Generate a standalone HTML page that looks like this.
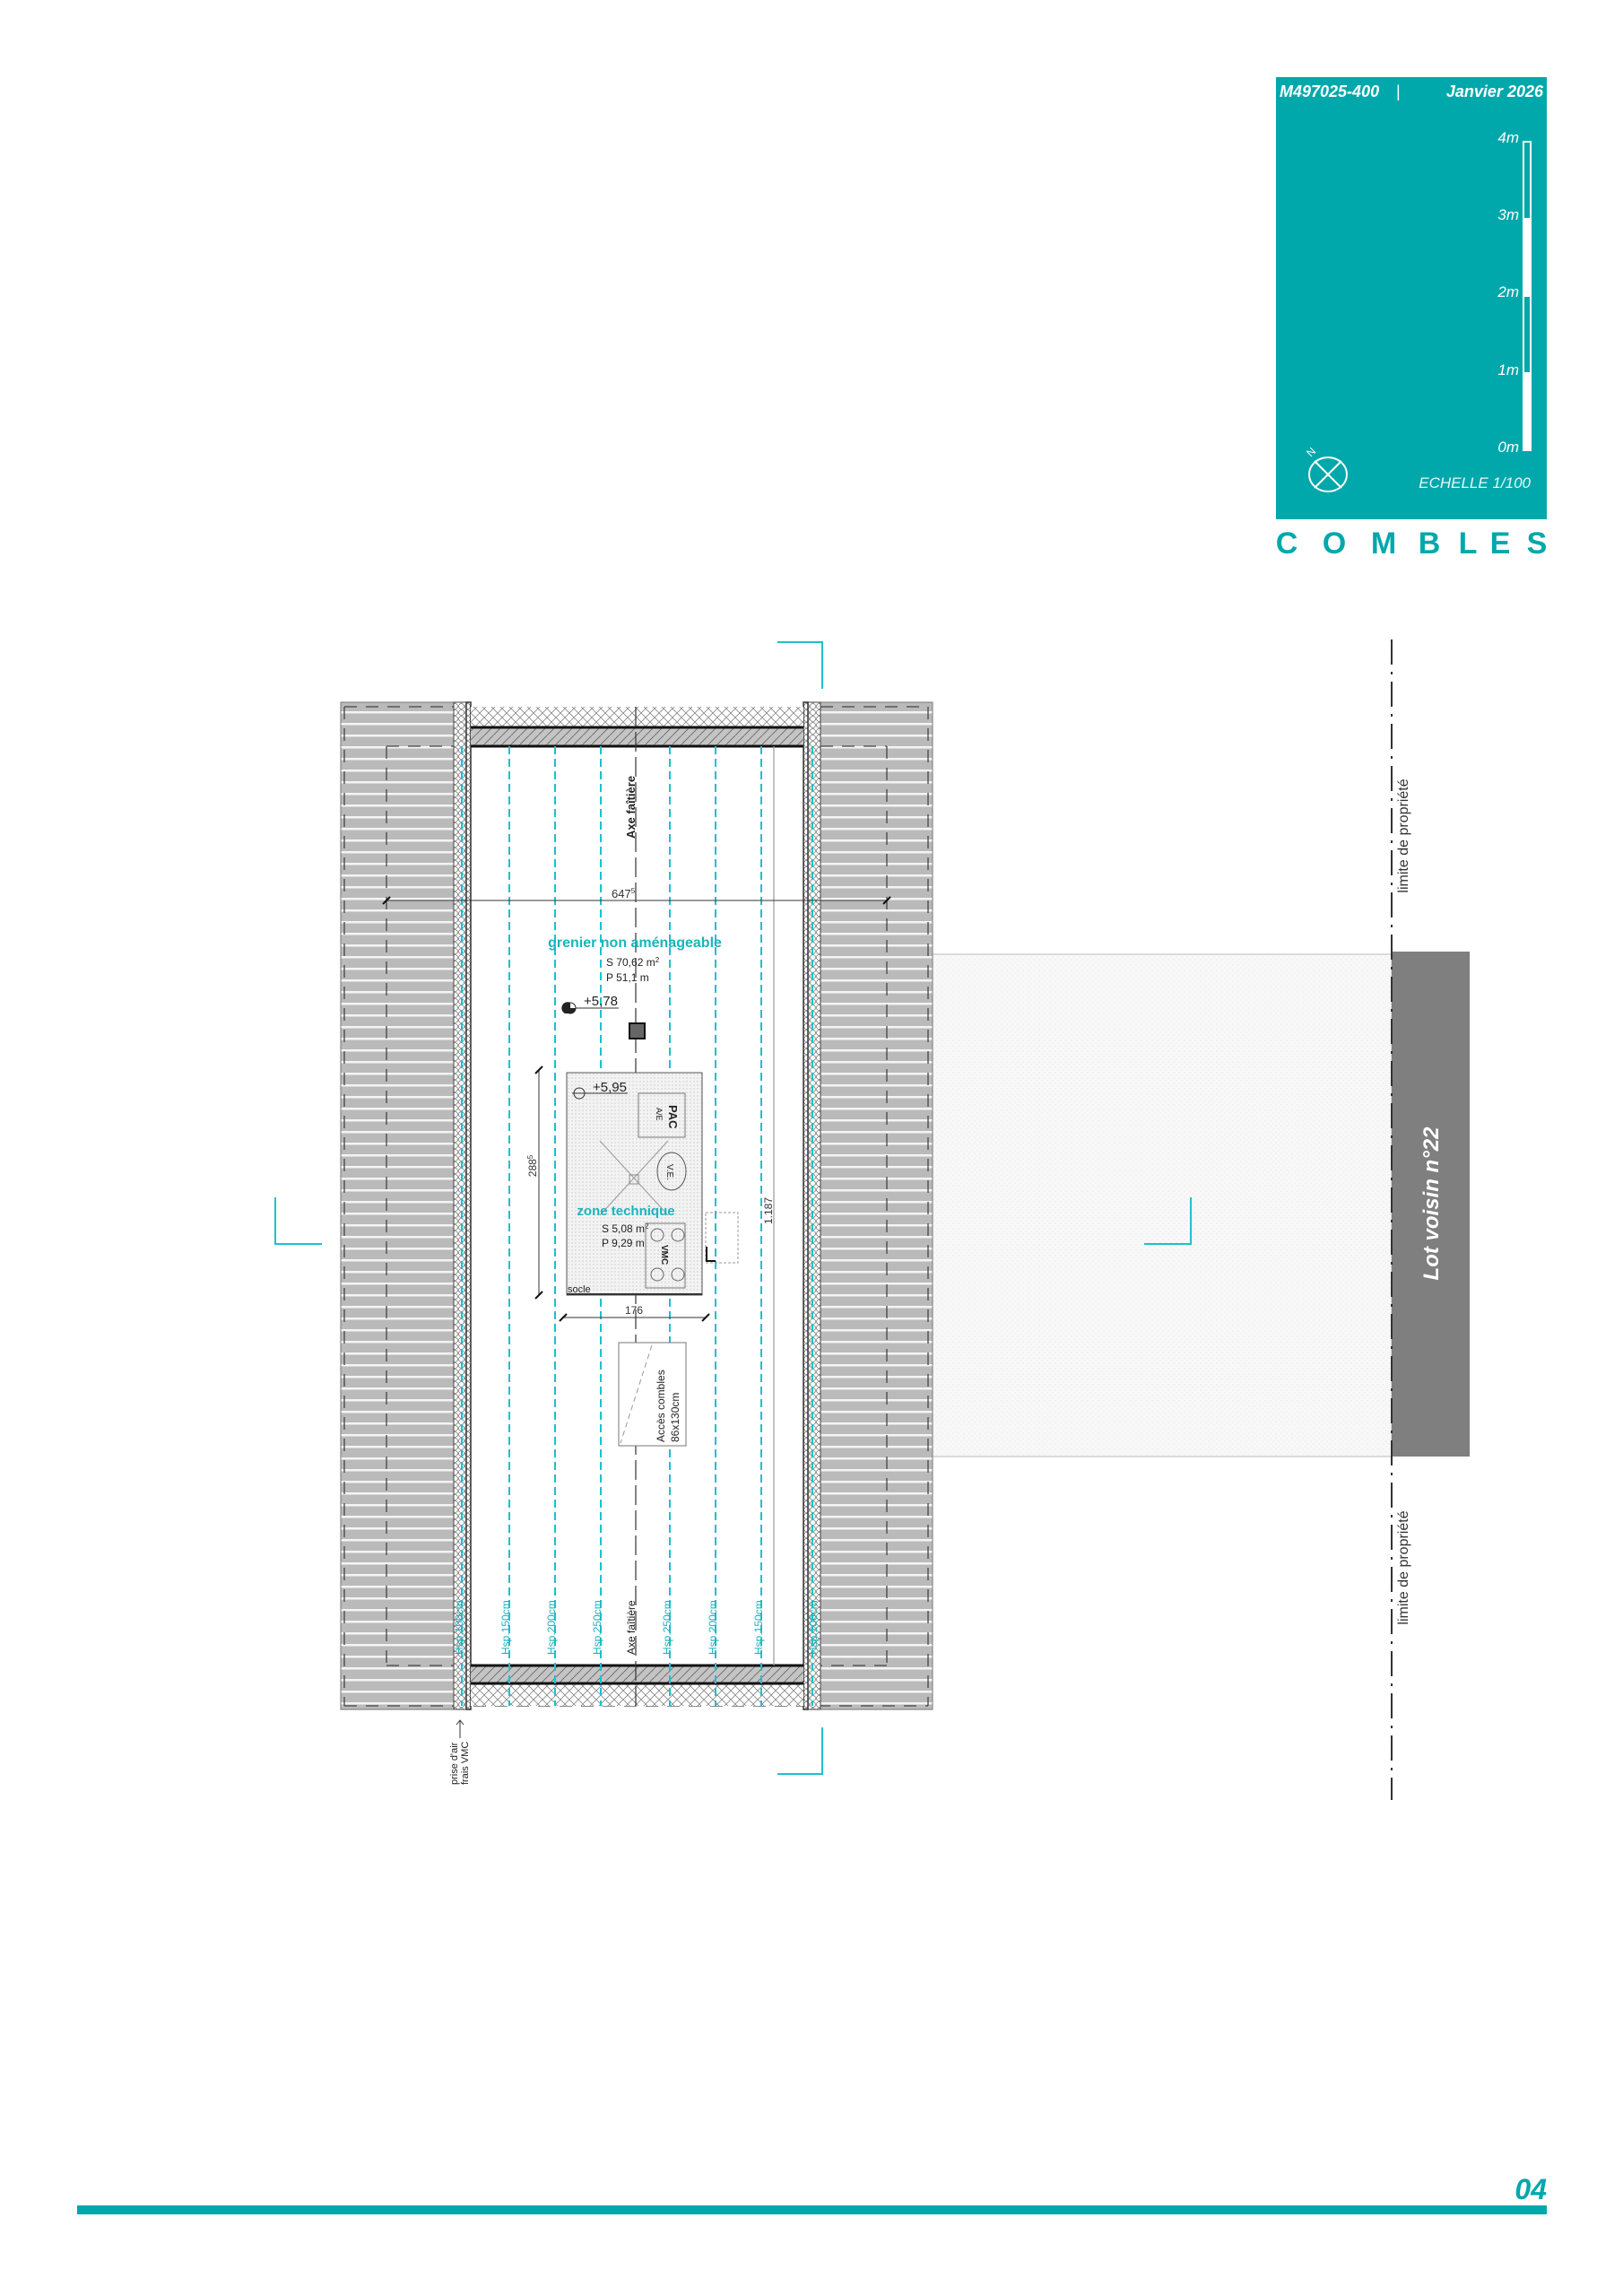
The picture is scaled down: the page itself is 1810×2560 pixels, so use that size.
<!DOCTYPE html>
<html><head><meta charset="utf-8"><style>
html,body{margin:0;padding:0;background:#fff;}
svg{display:block;}
text{font-family:"Liberation Sans",sans-serif;}
</style></head><body>
<svg width="1810" height="2560" viewBox="0 0 1810 2560" xmlns="http://www.w3.org/2000/svg">
<defs>
<pattern id="roof" x="0" y="783" width="20" height="13" patternUnits="userSpaceOnUse">
<rect width="20" height="13" fill="#bababa"/><rect y="10" width="20" height="2.5" fill="#f4f4f4"/>
</pattern>
<pattern id="ins" x="0" y="0" width="7" height="7" patternUnits="userSpaceOnUse">
<rect width="7" height="7" fill="#fff"/><circle cx="3.5" cy="3.5" r="3" fill="none" stroke="#777" stroke-width="0.8"/>
</pattern>
<pattern id="cross" width="10" height="10" patternUnits="userSpaceOnUse">
<rect width="10" height="10" fill="#fff"/><path d="M0 0L10 10M10 0L0 10" stroke="#888" stroke-width="0.8"/>
</pattern>
<pattern id="diag" width="10" height="10" patternUnits="userSpaceOnUse">
<rect width="10" height="10" fill="#c4c4c4"/><path d="M0 10L10 0" stroke="#666" stroke-width="0.9"/>
</pattern>
<pattern id="grid" width="4" height="4" patternUnits="userSpaceOnUse">
<rect width="4" height="4" fill="#f3f3f3"/><circle cx="2" cy="2" r="0.7" fill="#c8c8c8"/>
</pattern>
<pattern id="stip" width="6" height="6" patternUnits="userSpaceOnUse">
<rect width="6" height="6" fill="#f8f8f8"/><circle cx="1" cy="2" r="0.6" fill="#e2e2e2"/><circle cx="4" cy="5" r="0.6" fill="#e6e6e6"/>
</pattern>
</defs>

<!-- header box -->
<rect x="1423" y="86" width="302" height="493" fill="#00a8ab"/>
<text x="1427" y="108" font-size="18" font-weight="bold" font-style="italic" fill="#fff">M497025-400</text>
<text x="1557" y="108" font-size="18" fill="#fff">|</text>
<text x="1721" y="108" font-size="18" font-weight="bold" font-style="italic" fill="#fff" text-anchor="end">Janvier 2026</text>
<rect x="1699" y="158" width="8" height="86" fill="none" stroke="#fff" stroke-width="2"/>
<rect x="1698" y="244" width="10" height="86" fill="#fff"/>
<rect x="1699" y="330" width="8" height="86" fill="none" stroke="#fff" stroke-width="2"/>
<rect x="1698" y="416" width="10" height="87" fill="#fff"/>
<g font-size="17" font-style="italic" fill="#fff" text-anchor="end">
<text x="1694" y="159">4m</text><text x="1694" y="245">3m</text><text x="1694" y="331">2m</text><text x="1694" y="418">1m</text><text x="1694" y="504">0m</text>
</g>
<text x="1707" y="544" font-size="17" font-style="italic" fill="#e8f8f8" text-anchor="end">ECHELLE  1/100</text>
<g stroke="#fff" stroke-width="2" fill="none">
<ellipse cx="1481" cy="529" rx="21" ry="19"/>
<path d="M1466 514L1496 544M1496 514L1466 544"/>
</g>
<text x="1462" y="510" font-size="12" fill="#fff" transform="rotate(-45 1462 510)">N</text>
<g font-size="34" font-weight="bold" fill="#00a8ab" text-anchor="middle">
<text x="1435" y="617">C</text><text x="1488" y="617">O</text><text x="1543" y="617">M</text><text x="1594" y="617">B</text><text x="1637" y="617">L</text><text x="1673" y="617">E</text><text x="1714" y="617">S</text>
</g>

<!-- neighbor area -->
<rect x="1040" y="1064" width="512" height="560" fill="url(#stip)" stroke="#bbb" stroke-width="1"/>
<rect x="1552" y="1061" width="87" height="563" fill="#7f7f7f"/>
<text x="0" y="0" font-size="24" font-weight="bold" font-style="italic" fill="#fff" text-anchor="middle" transform="translate(1604 1342) rotate(-90)">Lot voisin n°22</text>
<line x1="1552" y1="713" x2="1552" y2="2007" stroke="#333" stroke-width="2" stroke-dasharray="28 8 3 8"/>
<text font-size="16" fill="#333" text-anchor="middle" transform="translate(1570 932) rotate(-90)">limite de propriété</text>
<text font-size="16" fill="#333" text-anchor="middle" transform="translate(1570 1748) rotate(-90)">limite de propriété</text>

<!-- roof strips -->
<rect x="380" y="783" width="126" height="1123" fill="url(#roof)" stroke="#777"/>
<rect x="915" y="783" width="125" height="1123" fill="url(#roof)" stroke="#777"/>
<g stroke="#444" stroke-width="1.3" stroke-dasharray="14 10" fill="none">
<path d="M384 788V1902M431 832V1857M431 832H506M384 788H506"/>
<path d="M1035 788V1902M989 832V1857M915 832H989M915 788H1035"/>
<path d="M431 1857H506M989 1857H915M384 1902H1035M525 790H896"/>
</g>
<!-- walls -->
<rect x="506" y="783" width="19" height="1123" fill="url(#ins)" stroke="#444"/>
<rect x="896" y="783" width="19" height="1123" fill="url(#ins)" stroke="#444"/>
<rect x="520" y="783" width="5" height="1123" fill="none" stroke="#333" stroke-width="1.5"/>
<rect x="896" y="783" width="5" height="1123" fill="none" stroke="#333" stroke-width="1.5"/>
<!-- top/bottom bands -->
<rect x="525" y="788" width="371" height="23" fill="url(#cross)"/>
<rect x="525" y="811" width="371" height="21" fill="url(#diag)"/>
<line x1="525" y1="811" x2="896" y2="811" stroke="#111" stroke-width="3"/>
<line x1="525" y1="832" x2="896" y2="832" stroke="#111" stroke-width="3"/>
<rect x="525" y="1857" width="371" height="20" fill="url(#diag)"/>
<rect x="525" y="1877" width="371" height="25" fill="url(#cross)"/>
<line x1="525" y1="1857" x2="896" y2="1857" stroke="#111" stroke-width="3"/>
<line x1="525" y1="1877" x2="896" y2="1877" stroke="#111" stroke-width="3"/>

<!-- axis & lines -->
<line x1="709" y1="788" x2="709" y2="1902" stroke="#333" stroke-width="1.2" stroke-dasharray="22 6"/>
<line x1="863" y1="832" x2="863" y2="1857" stroke="#999" stroke-width="1.2"/>
<g stroke="#1ec0cc" stroke-width="2" stroke-dasharray="9 5">
<line x1="515" y1="832" x2="515" y2="1902"/><line x1="568" y1="832" x2="568" y2="1902"/><line x1="619" y1="832" x2="619" y2="1902"/>
<line x1="670" y1="832" x2="670" y2="1902"/><line x1="747" y1="832" x2="747" y2="1902"/><line x1="798" y1="832" x2="798" y2="1902"/>
<line x1="849" y1="832" x2="849" y2="1902"/><line x1="906" y1="832" x2="906" y2="1902"/>
</g>
<text font-size="13" font-weight="bold" fill="#222" text-anchor="middle" transform="translate(708 900) rotate(-90)">Axe faîtière</text>

<!-- dims -->
<line x1="431" y1="1004" x2="989" y2="1004" stroke="#333" stroke-width="1"/>
<path d="M427 1008L435 1000M985 1008L993 1000" stroke="#111" stroke-width="2"/>
<text x="682" y="1001" font-size="13" fill="#333">647<tspan font-size="8" dy="-5">5</tspan></text>

<text x="708" y="1056" font-size="16" font-weight="bold" fill="#1ab4bb" text-anchor="middle">grenier non aménageable</text>
<text x="676" y="1077" font-size="12" fill="#222">S  70,62 m<tspan font-size="8" dy="-4">2</tspan></text>
<text x="676" y="1094" font-size="12" fill="#222">P  51,1 m</text>
<circle cx="636" cy="1124" r="6" fill="#fff" stroke="#222"/><path d="M636 1118V1130H630A6 6 0 0 1 636 1118M636 1124H642A6 6 0 0 1 636 1130Z" fill="#222"/>
<line x1="642" y1="1124" x2="690" y2="1124" stroke="#333"/>
<text x="651" y="1121" font-size="15" fill="#222">+5,78</text>
<rect x="702" y="1141" width="17" height="17" fill="#666" stroke="#111" stroke-width="2"/>

<!-- zone technique -->
<rect x="632" y="1196" width="151" height="248" fill="url(#grid)" stroke="#555"/>
<line x1="632" y1="1443" x2="783" y2="1443" stroke="#333" stroke-width="2"/>
<circle cx="646" cy="1219" r="6" fill="none" stroke="#333"/><line x1="638" y1="1219" x2="700" y2="1219" stroke="#333"/>
<text x="661" y="1217" font-size="15" fill="#222">+5,95</text>
<rect x="712" y="1219" width="52" height="49" fill="none" stroke="#777"/>
<text font-size="13" font-weight="bold" fill="#222" transform="translate(746 1232) rotate(90)">PAC</text>
<text font-size="9" fill="#222" transform="translate(732 1235) rotate(90)">A/E</text>
<ellipse cx="749" cy="1306" rx="16" ry="21" fill="none" stroke="#555"/>
<text font-size="10" fill="#222" transform="translate(744 1298) rotate(90)">V.E.</text>
<path d="M669 1272L745 1355M745 1272L669 1355" stroke="#999" stroke-width="1"/>
<rect x="702" y="1310" width="10" height="10" fill="none" stroke="#888"/>
<text x="698" y="1355" font-size="15" font-weight="bold" fill="#1ab4bb" text-anchor="middle">zone technique</text>
<text x="671" y="1374" font-size="12" fill="#222">S  5,08 m<tspan font-size="8" dy="-4">2</tspan></text>
<text x="671" y="1390" font-size="12" fill="#222">P  9,29 m</text>
<rect x="720" y="1364" width="44" height="72" fill="none" stroke="#777"/>
<g fill="none" stroke="#666"><circle cx="733" cy="1377" r="7"/><circle cx="756" cy="1377" r="7"/><circle cx="733" cy="1421" r="7"/><circle cx="756" cy="1421" r="7"/></g>
<text font-size="10" font-weight="bold" fill="#222" transform="translate(738 1388) rotate(90)">VMC</text>
<text x="633" y="1441" font-size="11" fill="#222">socle</text>
<rect x="787" y="1352" width="36" height="56" fill="none" stroke="#999" stroke-dasharray="3 2"/>
<path d="M788 1390V1406H798" stroke="#111" stroke-width="2" fill="none"/>
<line x1="601" y1="1193" x2="601" y2="1444" stroke="#333"/>
<path d="M597 1197L605 1189M597 1448L605 1440" stroke="#111" stroke-width="2"/>
<text font-size="12" fill="#333" text-anchor="middle" transform="translate(598 1300) rotate(-90)">288<tspan font-size="8" dy="-4">5</tspan></text>
<line x1="628" y1="1469" x2="787" y2="1469" stroke="#333"/>
<path d="M624 1473L632 1465M783 1473L791 1465" stroke="#111" stroke-width="2"/>
<text x="707" y="1465" font-size="12" fill="#333" text-anchor="middle">176</text>
<text font-size="12" fill="#333" text-anchor="middle" transform="translate(861 1350) rotate(-90)">1.187</text>

<rect x="690" y="1497" width="75" height="115" fill="#fff" stroke="#777"/>
<path d="M727 1500L692 1609" stroke="#999" stroke-dasharray="6 4"/>
<text font-size="12" fill="#222" transform="translate(741 1608) rotate(-90)">Accès combles</text>
<text font-size="12" fill="#222" transform="translate(757 1608) rotate(-90)">86x130cm</text>

<!-- bottom labels -->
<g font-size="12" fill="#1ab4bb">
<text transform="translate(516 1845) rotate(-90)">Hsp.100cm</text>
<text transform="translate(568 1845) rotate(-90)">Hsp.150cm</text>
<text transform="translate(619 1845) rotate(-90)">Hsp.200cm</text>
<text transform="translate(670 1845) rotate(-90)">Hsp.250cm</text>
<text transform="translate(748 1845) rotate(-90)">Hsp.250cm</text>
<text transform="translate(799 1845) rotate(-90)">Hsp.200cm</text>
<text transform="translate(850 1845) rotate(-90)">Hsp.150cm</text>
<text transform="translate(911 1845) rotate(-90)">Hsp.100cm</text>
</g>
<text font-size="12" fill="#222" transform="translate(708 1845) rotate(-90)">Axe faîtière</text>
<text font-size="11" fill="#222" transform="translate(510 1990) rotate(-90)">prise d'air</text>
<text font-size="11" fill="#222" transform="translate(522 1990) rotate(-90)">frais VMC</text>
<path d="M513 1938V1918M509 1923L513 1918L517 1923" stroke="#333" fill="none"/>

<!-- section markers -->
<g stroke="#1ec0cc" stroke-width="2" fill="none">
<path d="M867 716H917V768"/>
<path d="M917 1926V1978H867"/>
<path d="M307 1335V1387H359"/>
<path d="M1328 1335V1387H1276"/>
</g>

<!-- footer -->
<rect x="86" y="2459" width="1639" height="10" fill="#00a8ab"/>
<text x="1725" y="2452" font-size="32" font-weight="bold" font-style="italic" fill="#00a8ab" text-anchor="end">04</text>
</svg>
</body></html>
